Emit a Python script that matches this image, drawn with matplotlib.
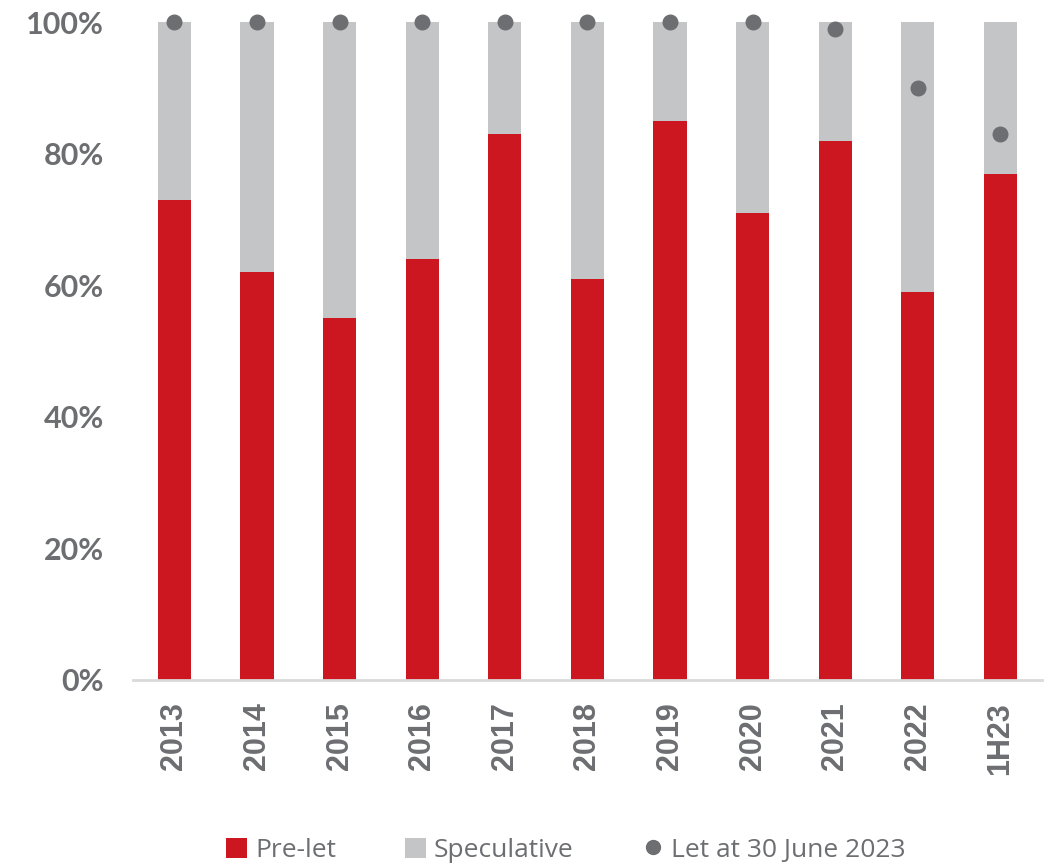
import matplotlib.pyplot as plt
from matplotlib.lines import Line2D
from matplotlib.patches import Patch
import numpy as np

years = ['2013', '2014', '2015', '2016', '2017', '2018', '2019', '2020', '2021', '2022', '1H23']
pre_let = [73, 62, 55, 64, 83, 61, 85, 71, 82, 59, 77]
speculative = [27, 38, 45, 36, 17, 39, 15, 29, 18, 41, 23]
let_june_2023 = [100, 100, 100, 100, 100, 100, 100, 100, 99, 90, 83]

RED = '#cc1720'
GREY = '#c4c5c7'
DOT = '#6d6e71'
TXT = '#6d6e71'

fig = plt.figure(figsize=(10.48, 8.65), dpi=100)
ax = fig.add_axes([0.127, 0.214, 0.867, 0.760])

x = np.arange(len(years))
ax.bar(x, pre_let, width=0.4, color=RED, zorder=2)
ax.bar(x, speculative, width=0.4, bottom=pre_let, color=GREY, zorder=2)
ax.scatter(x, let_june_2023, s=110, color=DOT, zorder=3, clip_on=False)

ax.set_xlim(-0.5, len(years) - 0.5)
ax.set_ylim(0, 100)
ax.set_yticks(range(0, 101, 20))
ax.set_yticklabels([f'{v}%' for v in range(0, 101, 20)],
                   fontfamily='Lato', fontweight='bold', fontsize=22, color=TXT)
ax.set_xticks(x)
ax.set_xticklabels(years, rotation=90, fontfamily='Liberation Sans',
                   fontweight='bold', fontsize=22, color=TXT)
ax.tick_params(axis='both', length=0)
ax.tick_params(axis='x', pad=16)
ax.tick_params(axis='y', pad=21)

for s in ['top', 'right', 'left']:
    ax.spines[s].set_visible(False)
ax.spines['bottom'].set_color('#d9d9d9')
ax.spines['bottom'].set_linewidth(2)

handles = [
    Patch(facecolor=RED, label='Pre-let'),
    Patch(facecolor=GREY, label='Speculative'),
    Line2D([], [], marker='o', linestyle='none', markersize=10, color=DOT,
           label='Let at 30 June 2023'),
]
fig.legend(handles=handles, loc='center', bbox_to_anchor=(0.54, 0.017), ncol=3,
           frameon=False, handlelength=0.8, handleheight=0.8, handletextpad=0.3,
           columnspacing=2.6, prop={'family': 'Open Sans', 'size': 19},
           labelcolor=TXT)

fig.savefig('out.png', dpi=100)
